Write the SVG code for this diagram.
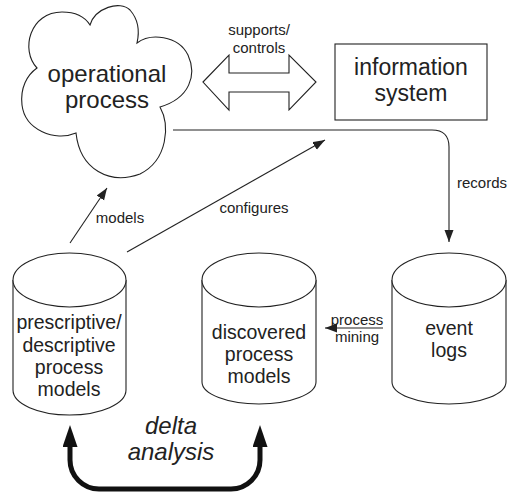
<svg xmlns="http://www.w3.org/2000/svg" width="508" height="493" viewBox="0 0 508 493">
<style>
.sh{fill:#fff;stroke:#222;stroke-width:1.1}
.ln{fill:none;stroke:#222;stroke-width:1.1}
.big{font-family:"Liberation Sans",Arial,sans-serif;font-size:24px;fill:#222;text-anchor:middle}
.mid{font-family:"Liberation Sans",Arial,sans-serif;font-size:19.5px;fill:#222;text-anchor:middle}
.sm{font-family:"Liberation Sans",Arial,sans-serif;font-size:15px;fill:#222;text-anchor:middle}
.it{font-style:italic}
</style>
<defs>
<marker id="ah" markerUnits="userSpaceOnUse" markerWidth="14" markerHeight="10" refX="12" refY="4.5" orient="auto"><path d="M0,0 L12,4.5 L0,9 Z" fill="#222"/></marker>
<marker id="bh" markerUnits="userSpaceOnUse" markerWidth="24" markerHeight="16" refX="0" refY="7.5" orient="auto-start-reverse"><path d="M0,0 L22,7.5 L0,15 Z" fill="#111"/></marker>
</defs>
<g id="connectors">
<path class="ln" d="M173,130 H432 Q449,130 449,147 V242" marker-end="url(#ah)"/>
<line class="ln" x1="70" y1="243" x2="107" y2="188" marker-end="url(#ah)"/>
<line class="ln" x1="127" y1="252" x2="325" y2="140" marker-end="url(#ah)"/>
<line class="ln" x1="383" y1="328" x2="325" y2="328" marker-end="url(#ah)"/>
<path d="M70,447 V460 A29,29 0 0 0 99,489 H231 A29,29 0 0 0 260,460 V447" fill="none" stroke="#111" stroke-width="5" marker-start="url(#bh)" marker-end="url(#bh)"/>
<polygon class="sh" points="203,82 229,55 229,73 289,73 289,55 316,82 289,110 289,92 229,92 229,110"/>
<text class="sm" x="259" y="35">supports/</text>
<text class="sm" x="259" y="53">controls</text>
<text class="sm" x="482" y="188">records</text>
<text class="sm" x="120" y="223">models</text>
<text class="sm" x="254" y="213">configures</text>
<text class="sm" x="357" y="325">process</text>
<text class="sm" x="357" y="342">mining</text>
<text class="big it" x="171" y="434">delta</text>
<text class="big it" x="171" y="460">analysis</text>
</g>
<g id="operational-process">
<path class="sh" d="M37,68 C20,50 30,12 62,12 C75,12 85,17 90,25 C95,8 120,0 130,10 C137,18 140,30 137,43 C150,33 178,35 188,55 C197,75 190,98 160,107 C170,125 168,160 140,174 C110,185 80,170 76,133 C55,142 25,130 22,105 C20,88 27,75 37,68 Z"/>
<text class="big" x="107" y="82">operational</text>
<text class="big" x="107" y="108">process</text>
</g>
<g id="information-system">
<rect class="sh" x="335" y="44" width="152" height="76"/>
<text class="big" x="411" y="75" style="font-size:23px">information</text>
<text class="big" x="411" y="101" style="font-size:23px">system</text>
</g>
<g id="prescriptive-models">
<path class="sh" d="M13,280 V390 A56.5,25 0 0 0 126,390 V280"/>
<ellipse class="sh" cx="69.5" cy="280" rx="56.5" ry="27"/>
<text class="mid" x="69" y="329">prescriptive/</text>
<text class="mid" x="69" y="352">descriptive</text>
<text class="mid" x="69" y="374">process</text>
<text class="mid" x="69" y="396">models</text>
</g>
<g id="discovered-models">
<path class="sh" d="M202,280 V382 A57,22 0 0 0 316,382 V280"/>
<ellipse class="sh" cx="259" cy="280" rx="57" ry="27"/>
<text class="mid" x="259" y="339">discovered</text>
<text class="mid" x="259" y="361">process</text>
<text class="mid" x="259" y="383">models</text>
</g>
<g id="event-logs">
<path class="sh" d="M392,280 V382 A57,22 0 0 0 506,382 V280"/>
<ellipse class="sh" cx="449" cy="280" rx="57" ry="27"/>
<text class="mid" x="449" y="335">event</text>
<text class="mid" x="449" y="357">logs</text>
</g>
</svg>
